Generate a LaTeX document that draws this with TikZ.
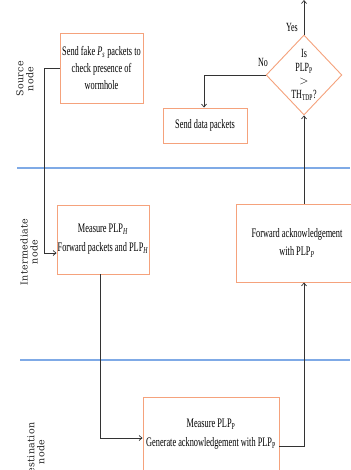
\documentclass[tikz,border=0pt]{standalone}
\usepackage{fontspec}
\setmainfont[FakeStretch=0.64]{Liberation Serif}
\newfontfamily\sidefont[LetterSpace=4]{DejaVu Serif}
\usetikzlibrary{shapes.geometric,arrows.meta,calc}
\definecolor{boxor}{HTML}{F5A27C}
\definecolor{laneblue}{HTML}{7FAAE6}
\definecolor{conn}{HTML}{333333}
\tikzset{
  box/.style={draw=boxor,line width=0.9pt,rectangle,inner sep=0pt,align=center,font=\fontsize{13}{17}\selectfont},
  dec/.style={draw=boxor,line width=0.9pt,diamond,inner sep=0pt,align=center,font=\fontsize{12.5}{13.5}\selectfont},
  arr/.style={draw=conn,line width=0.7pt,-{Straight Barb[length=3pt,width=5pt]}},
  ln/.style={draw=conn,line width=0.7pt},
  lane/.style={draw=laneblue,line width=1.2pt},
  side/.style={rotate=90,align=center,font=\sidefont\fontsize{9.5}{10}\selectfont,text=black!85},
  lbl/.style={font=\fontsize{12.5}{13}\selectfont}
}
\begin{document}
\begin{tikzpicture}[x=1pt,y=-1pt]
\useasboundingbox (0,0) rectangle (350,470);
\fill[white] (0,0) rectangle (350,470);
% swimlane separators
\draw[lane] (17,168) -- (350,168);
\draw[lane] (20,360) -- (350,360);
% side labels
\node[side] (lsrc) at (25,79) {Source\\node};
\node[side] (lint) at (29,252) {Intermediate\\node};
\node[side] (ldst) at (36,452) {Destination\\node};
% boxes
\node[box,minimum width=83,minimum height=70] (src) at (101.5,68) {Send fake \textit{P\textsubscript{s}} packets to\\check presence of\\wormhole};
\node[box,minimum width=92,minimum height=69,font=\fontsize{13}{19}\selectfont] (int) at (103,239.5) {Measure PLP\textsubscript{\textit{H}}\\Forward packets and PLP\textsubscript{\textit{H}}};
\node[box,minimum width=136,minimum height=74,font=\fontsize{13}{19}\selectfont] (dst) at (211,434) {Measure PLP\textsubscript{P}\\Generate acknowledgement with PLP\textsubscript{P}};
\node[box,minimum width=122,minimum height=78,font=\fontsize{13}{18}\selectfont] (ack) at (297,243) {Forward acknowledgement\\with PLP\textsubscript{\textit{P}}};
\node[dec,minimum width=57,minimum height=80] (dia) at (304,75) {Is\\PLP\textsubscript{P}\\$>$\\TH\textsubscript{TDP}?};
\node[box,minimum width=84,minimum height=35] (send) at (205,125.5) {Send data packets};
% coordinates
\coordinate (top) at (304,0);
\coordinate (nocorner) at (204,75);
% connectors
\draw[arr] (src.west) -- ++(-15,0) |- ([yshift=-13.5pt]int.west);
\draw[arr] ([xshift=-3pt]int.south) |- ([yshift=-4pt]dst.west);
\draw[arr] ([yshift=-12pt]dst.east) -| (dia.south |- ack.south);
\draw[arr] (dia.south |- ack.north) -- (dia.south);
\draw[arr] (dia.north) -- (top);
\draw[arr] (dia.west) -- (nocorner) -- (send.north -| nocorner);
% labels
\node[lbl] (yes) at (292,27) {Yes};
\node[lbl] (no) at (263,62) {No};
\end{tikzpicture}
\end{document}
